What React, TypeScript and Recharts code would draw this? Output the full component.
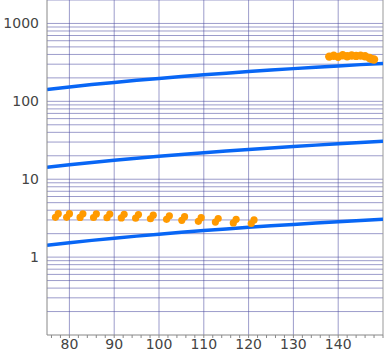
import {
  ComposedChart,
  Line,
  Scatter,
  XAxis,
  YAxis,
  ReferenceLine,
} from 'recharts'

const lineX = [75, 80, 85, 90, 95, 100, 105, 110, 115, 120, 125, 130, 135, 140, 145, 150]
const upperLine = [142, 153, 164, 175, 186, 197, 208, 219, 230, 241, 252, 263, 274, 285, 296, 307]
const middleLine = [14.2, 15.3, 16.4, 17.5, 18.6, 19.7, 20.8, 21.9, 23.0, 24.1, 25.2, 26.3, 27.4, 28.5, 29.6, 30.7]
const lowerLine = [1.42, 1.53, 1.64, 1.75, 1.86, 1.97, 2.08, 2.19, 2.3, 2.41, 2.52, 2.63, 2.74, 2.85, 2.96, 3.07]

const lowDotX = [77.2, 79.7, 82.7, 85.7, 88.7, 91.9, 95.1, 98.4, 102.0, 105.4, 109.1, 112.9, 116.9, 120.9]
const lowDotY = [3.42, 3.42, 3.41, 3.4, 3.38, 3.36, 3.33, 3.28, 3.22, 3.13, 3.04, 2.97, 2.9, 2.85]

const highDotX = [138, 139, 140, 141, 142, 143, 144, 145, 146, 147, 147.5, 148]
const highDotY = [375, 385, 372, 390, 380, 388, 383, 386, 380, 360, 348, 345]

const xLabels = [80, 90, 100, 110, 120, 130, 140]
const yTicks = [1, 10, 100, 1000]
const mantissas = [1, 2, 3, 4, 5, 6, 7, 8, 9]
const decades = [0.1, 1, 10, 100, 1000]

const xTicks: number[] = []
for (let v = 76; v <= 150; v += 2) xTicks.push(v)

const gridY = decades.flatMap((d) => mantissas.map((m) => m * d)).filter((v) => v > 0.1 && v <= 2000)

const toRows = (ys: number[]) => lineX.map((x, i) => ({ x, y: ys[i] }))
const lowDots = lowDotX.map((x, i) => ({ x, y: lowDotY[i] }))
const highDots = highDotX.map((x, i) => ({ x, y: highDotY[i] }))

const ORANGE = '#ff9a00'
const BLUE = '#0866f5'
const GRID = '#4a4aa0'

// each marker looks like two overlapping dots, offset on a diagonal
const PairDot = (props: any) => {
  const { cx, cy } = props
  if (cx == null || cy == null) return null
  return (
    <g>
      <circle cx={cx - 1.4} cy={cy + 1.8} r={3.6} fill={ORANGE} />
      <circle cx={cx + 1.4} cy={cy - 1.8} r={3.6} fill={ORANGE} />
    </g>
  )
}

const Dot = (props: any) => {
  const { cx, cy } = props
  if (cx == null || cy == null) return null
  return <circle cx={cx} cy={cy} r={4.2} fill={ORANGE} />
}

export default function App() {
  return (
    <div style={{ position: 'absolute', left: 0, top: 0 }}>
      <ComposedChart
        width={384}
        height={354}
        margin={{ top: 0, right: 1, bottom: 0, left: 0 }}
        style={{ fontFamily: 'DejaVu Sans' }}
      >
        <XAxis
          type="number"
          dataKey="x"
          domain={[75, 150]}
          ticks={xTicks}
          allowDataOverflow
          height={19}
          tickSize={3}
          tickMargin={1}
          interval={0}
          tickFormatter={(v: number) => (xLabels.includes(v) ? String(v) : '')}
          tick={{ fill: '#444', fontSize: 14 }}
          stroke="#888"
        />
        <YAxis
          type="number"
          scale="log"
          domain={[0.1, 2000]}
          ticks={yTicks}
          allowDataOverflow
          width={47}
          tickLine={false}
          interval={0}
          tick={{ fill: '#444', fontSize: 14 }}
          stroke="#888"
        />
        {gridY.map((v) => (
          <ReferenceLine key={`gy-${v}`} y={v} stroke={GRID} strokeOpacity={0.55} strokeWidth={1} />
        ))}
        {xLabels.map((v) => (
          <ReferenceLine key={`gx-${v}`} x={v} stroke={GRID} strokeOpacity={0.55} strokeWidth={1} />
        ))}
        <ReferenceLine x={150} stroke="#999" strokeWidth={1} />
        <Line data={toRows(upperLine)} dataKey="y" stroke={BLUE} strokeWidth={3.5} dot={false} isAnimationActive={false} />
        <Line data={toRows(middleLine)} dataKey="y" stroke={BLUE} strokeWidth={3.5} dot={false} isAnimationActive={false} />
        <Line data={toRows(lowerLine)} dataKey="y" stroke={BLUE} strokeWidth={3.5} dot={false} isAnimationActive={false} />
        <Scatter data={lowDots} dataKey="y" shape={PairDot} isAnimationActive={false} />
        <Scatter data={highDots} dataKey="y" shape={Dot} isAnimationActive={false} />
      </ComposedChart>
    </div>
  )
}
